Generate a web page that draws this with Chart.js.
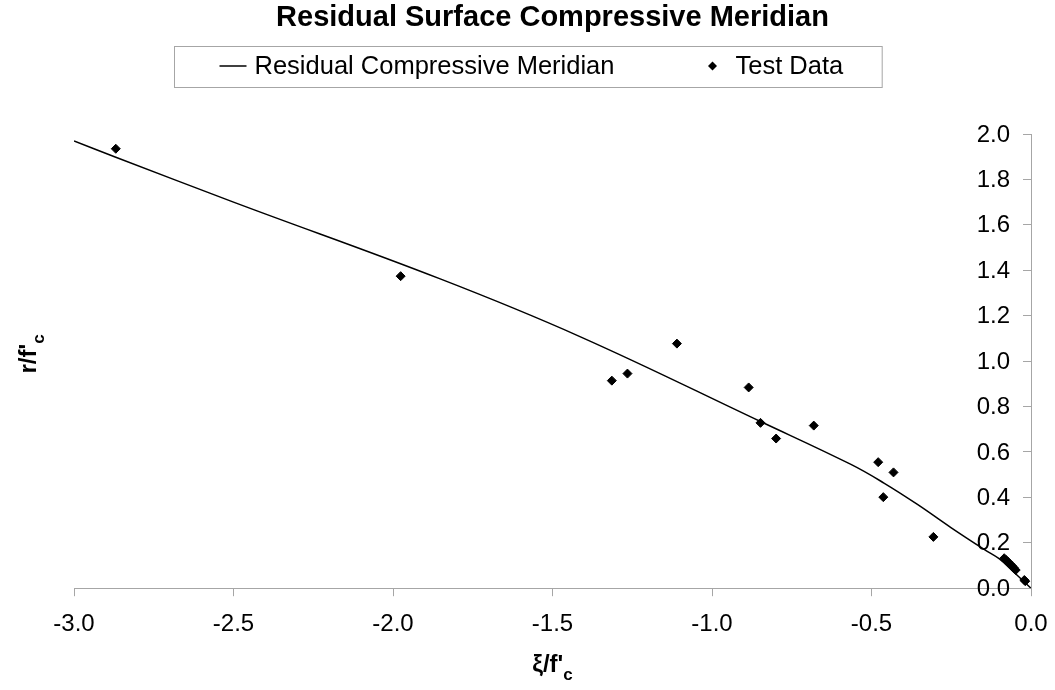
<!DOCTYPE html>
<html>
<head>
<meta charset="utf-8">
<script src="https://cdn.jsdelivr.net/npm/chart.js@4"></script>
<style>
  html, body { margin: 0; padding: 0; background: #fff; }
  #wrap { width: 1055px; height: 690px; }
</style>
</head>
<body>
<div id="wrap"><canvas id="chartMeridian"></canvas></div>
<script>
// curve
const lineXi = [-3.0, -2.871, -2.5, -1.854, -1.414, -0.848, -0.566, -0.461, -0.356, -0.251, -0.147, -0.100, -0.050, 0.0];
const lineR  = [1.969, 1.899, 1.70, 1.363, 1.108, 0.734, 0.546, 0.463, 0.369, 0.267, 0.171, 0.130, 0.066, 0.0];

// test points
const testXi = [-2.869, -1.976, -1.314, -1.265, -1.110, -0.885, -0.848, -0.799, -0.681, -0.479, -0.463, -0.431, -0.306,
                -0.084, -0.078, -0.072, -0.066, -0.060, -0.054, -0.048, -0.021, -0.018];
const testR  = [1.935, 1.374, 0.914, 0.945, 1.077, 0.884, 0.728, 0.659, 0.716, 0.555, 0.401, 0.510, 0.226,
                0.132, 0.124, 0.116, 0.107, 0.099, 0.090, 0.080, 0.036, 0.031];

const FONT = "'Liberation Sans', Arial, sans-serif";
const axisGray = '#a6a6a6';

function toPoints(xs, ys){
  let pts = [];
  for (let i = 0; i < xs.length; i++) {
    pts.push({x: xs[i], y: ys[i]});
  }
  return pts;
}

// legend box, y tick labels (inside the plot, left of the axis) and axis titles with subscript
const extraText = {
  id: 'extraText',
  afterDraw(chart) {
    const ctx = chart.ctx;
    const area = chart.chartArea;
    ctx.save();
    ctx.fillStyle = '#000';
    ctx.textBaseline = 'middle';

    // y tick labels
    const yScale = chart.scales.y;
    ctx.font = '24px ' + FONT;
    ctx.textAlign = 'right';
    yScale.ticks.forEach(function(t) {
      ctx.fillText(t.value.toFixed(1), area.right - 21, yScale.getPixelForValue(t.value) + 1);
    });

    // legend
    ctx.textAlign = 'left';
    ctx.font = '25.5px ' + FONT;
    const t1 = 'Residual Compressive Meridian';
    const t2 = 'Test Data';
    const w1 = ctx.measureText(t1).width;
    const w2 = ctx.measureText(t2).width;
    const inner = 27 + 8 + w1 + 98 + 23 + w2;
    const boxW = inner + 45 + 39;
    const boxL = Math.round(chart.width / 2 - boxW / 2) + 0.5;
    const boxT = 46.5, boxH = 41, midY = 66;
    ctx.strokeStyle = axisGray;
    ctx.lineWidth = 1;
    ctx.strokeRect(boxL, boxT, boxW, boxH);

    let cx = boxL + 45;
    ctx.strokeStyle = '#000';
    ctx.lineWidth = 1.5;
    ctx.beginPath();
    ctx.moveTo(cx, midY); ctx.lineTo(cx + 27, midY);
    ctx.stroke();
    cx += 35;
    ctx.fillText(t1, cx, midY + 1);
    cx += w1 + 98;
    ctx.beginPath();
    ctx.moveTo(cx, midY - 4.5); ctx.lineTo(cx + 4.5, midY);
    ctx.lineTo(cx, midY + 4.5); ctx.lineTo(cx - 4.5, midY);
    ctx.closePath();
    ctx.fill();
    cx += 23;
    ctx.fillText(t2, cx, midY + 1);

    // x title: ξ/f'c
    const xMid = (area.left + area.right) / 2;
    ctx.font = 'bold 24px ' + FONT;
    const xm = ctx.measureText("ξ/f'").width;
    ctx.font = 'bold 17px ' + FONT;
    const xs = ctx.measureText('c').width;
    let x0 = xMid - (xm + xs) / 2;
    ctx.font = 'bold 24px ' + FONT;
    ctx.fillText("ξ/f'", x0, 665);
    ctx.font = 'bold 17px ' + FONT;
    ctx.fillText('c', x0 + xm, 675);

    // y title: r/f'c, rotated
    ctx.translate(29, 354);
    ctx.rotate(-Math.PI / 2);
    ctx.font = 'bold 24px ' + FONT;
    const ym = ctx.measureText("r/f'").width;
    ctx.font = 'bold 17px ' + FONT;
    const ys = ctx.measureText('c').width;
    x0 = -(ym + ys) / 2;
    ctx.font = 'bold 24px ' + FONT;
    ctx.fillText("r/f'", x0, 0);
    ctx.font = 'bold 17px ' + FONT;
    ctx.fillText('c', x0 + ym, 10);

    ctx.restore();
  }
};

function buildChart(){
  const data = {
    datasets: [
      {
        label: 'Test Data',
        data: toPoints(testXi, testR),
        pointStyle: 'rectRot',
        pointRadius: 4.5,
        pointBackgroundColor: '#000',
        pointBorderColor: '#000',
        pointBorderWidth: 1,
        showLine: false,
        order: 0
      },
      {
        label: 'Residual Compressive Meridian',
        data: toPoints(lineXi, lineR),
        borderColor: '#000',
        borderWidth: 1.5,
        pointRadius: 0,
        showLine: true,
        tension: 0.4,
        order: 1
      }
    ]
  };

  const config = {
    type: 'scatter',
    data: data,
    options: {
      responsive: true,
      maintainAspectRatio: false,
      animation: false,
      layout: { autoPadding: false, padding: { left: 74, right: 24, top: 0, bottom: 37 } },
      plugins: {
        legend: { display: false },
        tooltip: { enabled: false },
        title: {
          display: true,
          text: 'Residual Surface Compressive Meridian',
          color: '#000',
          font: { family: FONT, size: 29, weight: 'bold', lineHeight: 1 },
          padding: { top: 3, bottom: 102 }
        }
      },
      scales: {
        x: {
          type: 'linear',
          position: 'bottom',
          min: -3,
          max: 0,
          border: { color: axisGray, width: 1 },
          grid: { drawOnChartArea: false, drawTicks: true, tickLength: 8, color: axisGray },
          ticks: {
            stepSize: 0.5,
            padding: 14,
            color: '#000',
            font: { family: FONT, size: 24 },
            callback: v => v.toFixed(1)
          },
          // the side padding is already in layout.padding
          afterFit: function(scale) {
            scale.paddingLeft = 0;
            scale.paddingRight = 0;
          }
        },
        y: {
          type: 'linear',
          position: { x: 0 },
          min: 0,
          max: 2,
          border: { color: axisGray, width: 1 },
          grid: { drawOnChartArea: false, drawTicks: true, tickLength: 8, color: axisGray },
          ticks: {
            display: false,
            stepSize: 0.2
          }
        }
      }
    },
    plugins: [extraText]
  };

  return new Chart(document.getElementById('chartMeridian'), config);
}

document.addEventListener('DOMContentLoaded', function() {
  buildChart();
});
</script>
</body>
</html>
